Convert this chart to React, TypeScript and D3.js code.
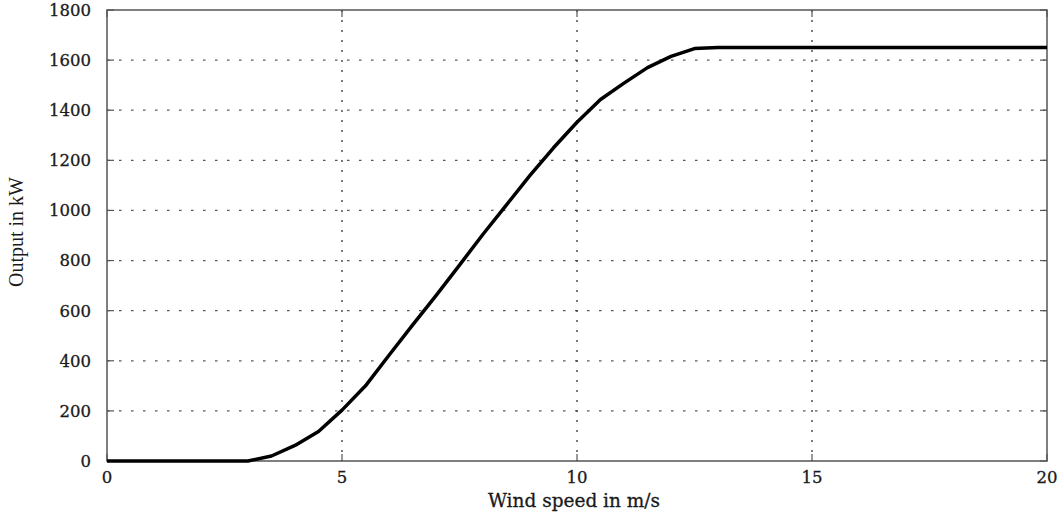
import React from "react";
import * as d3 from "d3";

const windSpeed = [0, 0.5, 1, 1.5, 2, 2.5, 3, 3.5, 4, 4.5, 5, 5.5, 6, 6.5, 7, 7.5, 8, 8.5, 9, 9.5, 10, 10.5, 11, 11.5, 12, 12.5, 13, 14, 15, 16, 17, 18, 19, 20];
const output = [0, 0, 0, 0, 0, 0, 0, 20, 62, 118, 203, 300, 422, 542, 660, 782, 905, 1022, 1140, 1250, 1352, 1443, 1508, 1570, 1615, 1646, 1650, 1650, 1650, 1650, 1650, 1650, 1650, 1650];
const xTicks = [0, 5, 10, 15, 20];
const yTicks = [0, 200, 400, 600, 800, 1000, 1200, 1400, 1600, 1800];

export default function App() {
  const W = 1059, H = 517;
  const left = 107, right = 1047, top = 10, bottom = 461;
  const x = d3.scaleLinear().domain([0, 20]).range([left, right]);
  const y = d3.scaleLinear().domain([0, 1800]).range([bottom, top]);
  const data = windSpeed.map((w, i) => [w, output[i]] as [number, number]);
  const line = d3.line<[number, number]>().x(d => x(d[0])).y(d => y(d[1]));
  const serif = "'DejaVu Serif', serif";
  const txt = "#1a1a1a";
  return (
    <svg width={W} height={H} style={{ position: "absolute", left: 0, top: 0, background: "#fff" }}>
      {/* grid */}
      {yTicks.slice(1, -1).map(t => (
        <line key={"gy" + t} x1={left} x2={right} y1={y(t)} y2={y(t)} stroke="#555" strokeWidth={1.2} strokeDasharray="2.5,9.5" />
      ))}
      {xTicks.slice(1, -1).map(t => (
        <line key={"gx" + t} x1={x(t)} x2={x(t)} y1={top} y2={bottom} stroke="#333" strokeWidth={1.3} strokeDasharray="2,8" />
      ))}
      {/* inner ticks */}
      {yTicks.map(t => (
        <g key={"ty" + t}>
          <line x1={left} x2={left + 7} y1={y(t)} y2={y(t)} stroke="#555" strokeWidth={1.2} />
          <line x1={right - 7} x2={right} y1={y(t)} y2={y(t)} stroke="#555" strokeWidth={1.2} />
        </g>
      ))}
      {xTicks.map(t => (
        <g key={"tx" + t}>
          <line x1={x(t)} x2={x(t)} y1={bottom} y2={bottom - 7} stroke="#555" strokeWidth={1.2} />
          <line x1={x(t)} x2={x(t)} y1={top} y2={top + 7} stroke="#555" strokeWidth={1.2} />
        </g>
      ))}
      {/* frame */}
      <rect x={left} y={top} width={right - left} height={bottom - top} fill="none" stroke="#555" strokeWidth={1.5} />
      {/* curve */}
      <path d={line(data) || ""} fill="none" stroke="#000" strokeWidth={3.5} strokeLinejoin="round" />
      {/* tick labels */}
      {yTicks.map(t => (
        <text key={"ly" + t} x={left - 16} y={y(t)} dy="0.36em" textAnchor="end" fontFamily={serif} fontSize={16.5} fill={txt} stroke={txt} strokeWidth={0.3}>{t}</text>
      ))}
      {xTicks.map(t => (
        <text key={"lx" + t} x={x(t)} y={bottom + 22} textAnchor="middle" fontFamily={serif} fontSize={16.5} fill={txt} stroke={txt} strokeWidth={0.3}>{t}</text>
      ))}
      <text x={574} y={507} textAnchor="middle" fontFamily={serif} fontSize={18.5} fill={txt} stroke={txt} strokeWidth={0.3}>Wind speed in m/s</text>
      <text transform={`translate(23,232) rotate(-90)`} textAnchor="middle" fontFamily="'Liberation Serif', serif" fontSize={20} fill={txt}>Output in kW</text>
    </svg>
  );
}
